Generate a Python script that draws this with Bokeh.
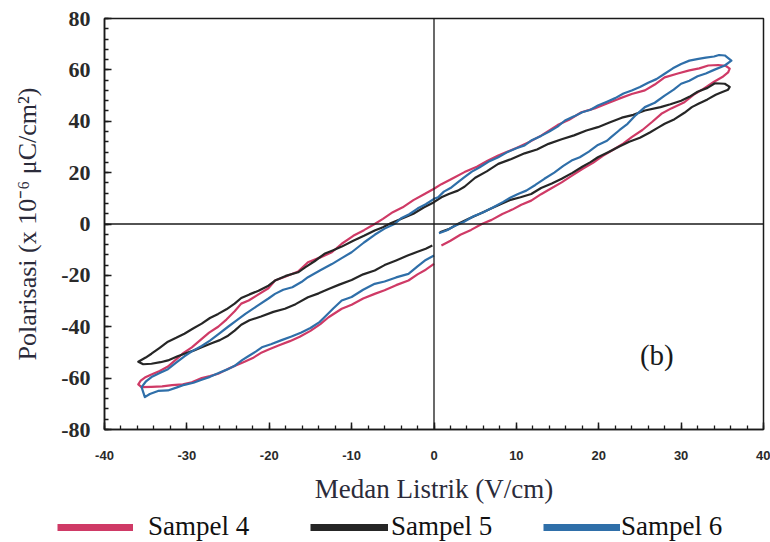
from bokeh.plotting import figure
from bokeh.layouts import column
from bokeh.models import Span, Label, Legend, LegendItem, SingleIntervalTicker, ColumnDataSource
from bokeh.embed import file_html
from bokeh.resources import INLINE

# ---------------- data ----------------
series_names = ["Sampel 4", "Sampel 5", "Sampel 6"]
series_colors = ["#cf3a66", "#262626", "#2f6fa9"]

# Sampel 4 : (Medan Listrik V/cm, Polarisasi x10^-6 uC/cm2)
sampel4 = [
    (0.9, -8.4), (2.0, -6.5), (3.2, -4.2), (4.5, -2.3), (5.8, 0.0), (7.0, 1.6), (8.3, 3.9),
    (9.5, 5.6), (10.6, 7.5), (11.8, 9.1), (13.0, 11.6), (14.2, 13.8), (15.5, 16.2),
    (16.8, 18.9), (18.0, 21.4), (19.3, 23.8), (20.5, 26.5), (21.8, 29.0), (23.0, 31.4),
    (24.0, 33.8), (25.3, 36.6), (26.5, 39.8), (27.6, 42.9), (28.8, 45.0), (30.4, 47.4),
    (31.5, 50.3), (32.7, 52.6), (34.0, 55.4), (35.0, 57.2), (35.7, 59.0), (35.9, 60.5),
    (35.4, 61.6), (34.5, 61.9), (33.3, 61.7), (32.2, 60.6), (31.0, 59.8), (29.6, 58.6),
    (28.0, 57.1), (26.8, 54.3), (25.6, 52.0), (24.0, 50.6), (22.4, 48.7), (21.0, 46.9),
    (19.5, 45.0), (17.9, 43.5), (16.4, 40.6), (15.0, 38.5), (13.0, 34.4), (11.5, 31.8),
    (10.0, 29.6), (8.8, 28.0), (7.8, 26.7), (6.5, 24.6), (5.2, 22.3), (3.7, 20.2),
    (2.3, 17.8), (0.9, 15.5), (0.0, 13.7), (-1.2, 11.6), (-2.5, 9.3), (-3.8, 6.5),
    (-5.0, 4.6), (-6.2, 2.0), (-7.2, 0.0), (-8.5, -2.4), (-9.8, -4.6), (-11.2, -7.7),
    (-12.4, -11.0), (-13.8, -13.0), (-15.3, -14.9), (-16.5, -18.5), (-18.0, -20.4),
    (-19.3, -22.0), (-20.1, -25.0), (-21.4, -27.6), (-22.5, -29.8), (-23.4, -31.0),
    (-24.2, -34.0), (-25.2, -37.2), (-26.2, -40.0), (-27.3, -42.3), (-28.3, -45.0),
    (-29.4, -48.0), (-30.4, -50.2), (-31.4, -53.0), (-32.3, -55.5), (-33.3, -57.2),
    (-34.3, -58.6), (-35.1, -59.8), (-35.6, -61.0), (-35.9, -62.4),
    (-35.5, -63.5), (-34.3, -63.4), (-33.0, -63.2), (-31.8, -62.7), (-30.5, -62.4),
    (-29.4, -61.6), (-28.2, -60.0), (-27.2, -59.2), (-26.2, -58.3), (-25.0, -56.4),
    (-24.0, -55.0), (-23.0, -53.6), (-22.0, -52.2), (-20.9, -50.0), (-20.0, -48.8),
    (-18.8, -47.2), (-17.5, -45.6), (-16.3, -43.9), (-15.0, -41.6), (-13.8, -39.0),
    (-12.8, -36.3), (-11.2, -33.0), (-10.0, -31.4), (-8.6, -29.0), (-7.2, -27.2),
    (-6.0, -25.8), (-4.6, -23.8), (-3.1, -22.0), (-2.0, -19.6), (-1.0, -17.8), (0.0, -15.5),
]

# Sampel 5
sampel5 = [
    (0.7, -3.2), (1.8, -2.0), (3.0, 0.2), (4.2, 2.0), (5.5, 3.9), (6.8, 5.8), (8.0, 7.6),
    (9.3, 9.4), (10.5, 10.4), (11.8, 11.7), (13.0, 14.0), (14.3, 15.8), (15.5, 17.6),
    (16.8, 19.9), (18.0, 22.3), (19.0, 24.1), (19.9, 26.0), (21.2, 28.0), (22.5, 30.2),
    (23.7, 32.0), (25.0, 33.6), (26.2, 35.6), (27.2, 37.5), (28.0, 39.0), (29.2, 40.8),
    (30.4, 43.3), (31.3, 45.5), (32.1, 46.8), (33.2, 48.5), (34.2, 50.3), (35.0, 51.4),
    (35.7, 52.3), (35.9, 53.4),
    (35.3, 54.6), (34.1, 54.8), (33.2, 53.0), (32.0, 51.5), (31.0, 49.5), (30.0, 48.0),
    (28.7, 46.6), (27.5, 45.5), (25.6, 44.2), (24.2, 42.5), (22.8, 41.4), (21.3, 39.5),
    (19.9, 37.7), (18.5, 36.4), (17.0, 34.5), (15.5, 33.0), (13.9, 31.2), (12.5, 29.0),
    (11.0, 27.5), (9.4, 25.3), (7.8, 23.4), (6.4, 20.5), (5.0, 18.0), (3.7, 14.5),
    (2.9, 13.0), (1.8, 11.7), (0.9, 10.4), (0.0, 8.5), (-1.2, 6.5), (-2.5, 4.0),
    (-3.8, 2.2), (-5.2, 0.4), (-6.2, -1.3), (-7.2, -2.5), (-8.5, -4.6), (-9.8, -6.5),
    (-11.2, -8.8), (-12.3, -10.3), (-13.3, -11.6), (-14.5, -14.5), (-15.6, -16.8),
    (-16.5, -18.8), (-18.0, -20.2), (-19.3, -22.0), (-20.1, -24.0), (-21.3, -26.0),
    (-22.4, -27.4), (-23.4, -28.8), (-24.2, -31.0), (-25.2, -33.2), (-26.2, -35.0),
    (-27.2, -36.6), (-28.2, -38.8), (-29.3, -40.8), (-30.3, -42.7), (-31.3, -44.3),
    (-32.3, -45.8), (-33.3, -48.2), (-34.3, -50.5), (-35.0, -52.0), (-35.9, -53.6),
    (-35.3, -54.6),
    (-34.3, -54.4), (-33.2, -53.8), (-32.3, -53.1), (-31.2, -51.6), (-30.3, -50.5),
    (-29.2, -49.3), (-28.2, -48.0), (-27.0, -46.4), (-26.0, -45.2), (-25.0, -43.5),
    (-24.2, -41.5), (-23.4, -39.2), (-22.4, -37.5), (-21.0, -36.0), (-19.5, -34.2),
    (-18.1, -33.0), (-16.8, -31.2), (-15.3, -28.5), (-14.0, -27.0), (-12.8, -25.3),
    (-11.5, -23.6), (-10.0, -21.8), (-8.6, -19.6), (-7.2, -18.1), (-6.0, -16.0),
    (-4.6, -14.2), (-3.2, -12.3), (-2.0, -10.8), (-1.0, -9.6), (-0.2, -8.4),
]

# Sampel 6
sampel6 = [
    (0.6, -3.6), (1.5, -2.5), (2.5, -0.8), (3.6, 0.8), (4.8, 3.0), (6.0, 4.6), (7.2, 6.5),
    (8.4, 8.6), (9.3, 10.3), (10.2, 11.7), (11.2, 13.0), (12.3, 15.2), (13.4, 17.6),
    (14.6, 20.0), (15.7, 22.6), (16.7, 24.7), (17.7, 26.0), (18.8, 28.2), (19.9, 30.8),
    (21.0, 32.4), (21.5, 33.8), (22.5, 36.5), (23.5, 39.0), (24.5, 42.4), (25.6, 45.5),
    (26.8, 47.2), (28.0, 50.0), (29.1, 52.3), (30.0, 54.6), (31.0, 55.8), (32.0, 57.5),
    (33.0, 58.6), (34.0, 60.0), (35.3, 61.7), (36.1, 63.6),
    (35.3, 65.6), (34.6, 65.8), (34.0, 65.2), (33.0, 64.8), (32.1, 64.3), (31.0, 63.6),
    (30.0, 62.3), (29.0, 60.6), (28.0, 58.5), (27.0, 56.4), (26.0, 55.0), (25.0, 53.3),
    (24.0, 52.0), (23.0, 50.8), (22.0, 49.0), (21.0, 47.6), (19.9, 46.1), (19.0, 44.5),
    (18.0, 43.5), (17.0, 41.9), (15.9, 40.3), (15.0, 37.9), (14.0, 36.0), (13.0, 34.3),
    (11.8, 32.5), (11.0, 30.6), (10.0, 29.5), (8.8, 27.8), (7.8, 26.0), (6.6, 24.2),
    (5.5, 22.0), (4.6, 20.4), (3.7, 18.2), (2.8, 16.0), (2.0, 14.0), (1.2, 12.6),
    (0.5, 10.4), (0.0, 9.8), (-1.0, 7.7), (-2.0, 6.0), (-3.0, 3.8), (-4.0, 2.2),
    (-4.8, 0.0), (-6.0, -1.8), (-7.2, -4.2), (-8.5, -7.2), (-10.0, -11.0), (-11.2, -13.3),
    (-12.4, -15.6), (-13.8, -18.0), (-15.3, -20.7), (-16.1, -22.6), (-17.2, -24.6),
    (-18.3, -25.6), (-19.3, -27.2), (-20.1, -29.0), (-21.5, -32.0), (-22.9, -35.0),
    (-24.0, -37.6), (-25.0, -40.0), (-26.2, -43.0), (-27.2, -45.4), (-28.2, -47.5),
    (-29.3, -49.4), (-30.3, -51.5), (-31.3, -54.0), (-32.3, -56.5), (-33.3, -58.0),
    (-34.3, -59.6), (-35.0, -61.4), (-35.5, -63.5), (-35.1, -67.4),
    (-34.5, -66.2), (-33.5, -65.0), (-32.3, -64.8), (-31.2, -63.6), (-30.3, -62.6),
    (-29.2, -61.8), (-28.2, -60.6), (-27.2, -59.5), (-26.0, -57.8), (-25.0, -56.5),
    (-24.2, -55.2), (-23.3, -53.0), (-22.5, -51.4), (-21.6, -49.6), (-20.9, -48.0),
    (-19.8, -46.8), (-18.5, -45.2), (-17.3, -43.8), (-16.1, -42.2), (-15.0, -40.5),
    (-13.9, -38.2), (-13.3, -36.3), (-12.2, -32.8), (-11.2, -29.8), (-10.0, -28.4),
    (-8.6, -25.6), (-7.2, -23.3), (-6.0, -22.4), (-4.6, -20.8), (-3.1, -19.4),
    (-2.0, -16.5), (-1.0, -14.0), (0.0, -12.3),
]

x_ticks = [-40, -30, -20, -10, 0, 10, 20, 30, 40]
y_ticks = [-80, -60, -40, -20, 0, 20, 40, 60, 80]
x_title = "Medan Listrik (V/cm)"
y_title = "Polarisasi (x 10\u207b\u2076 \u03bcC/cm\u00b2)"
panel_tag = "(b)"

# ---------------- main figure ----------------
p = figure(width=770, height=509, x_range=(-40, 40), y_range=(-80, 80),
           output_backend="svg", toolbar_location=None,
           min_border_left=104, min_border_right=7, min_border_top=18, min_border_bottom=80)
p.background_fill_color = "white"
p.border_fill_color = "white"
p.outline_line_color = "#1a1a1a"
p.outline_line_width = 1.5
p.grid.visible = False

p.xaxis.ticker = SingleIntervalTicker(interval=10, num_minor_ticks=5)
p.yaxis.ticker = SingleIntervalTicker(interval=20, num_minor_ticks=5)
p.xaxis.major_label_overrides = {t: str(t) for t in x_ticks}
p.yaxis.major_label_overrides = {t: str(t) for t in y_ticks}
for ax in (p.xaxis, p.yaxis):
    ax.axis_line_color = "#1a1a1a"
    ax.axis_line_width = 1.5
    ax.major_tick_in = 7
    ax.major_tick_out = 0
    ax.minor_tick_in = 4
    ax.minor_tick_out = 0
    ax.major_tick_line_color = "#1a1a1a"
    ax.minor_tick_line_color = "#1a1a1a"
    ax.major_tick_line_width = 1.5
    ax.minor_tick_line_width = 1.3

p.xaxis.major_label_text_font = "Liberation Sans"
p.xaxis.major_label_text_font_style = "bold"
p.xaxis.major_label_text_font_size = "13px"
p.xaxis.major_label_text_color = "#2a2a2a"
p.xaxis.major_label_standoff = 21
p.xaxis.axis_label = x_title
p.xaxis.axis_label_text_font = "Liberation Serif"
p.xaxis.axis_label_text_font_style = "normal"
p.xaxis.axis_label_text_font_size = "27px"
p.xaxis.axis_label_text_color = "#2b2b3a"
p.xaxis.axis_label_standoff = 11

p.yaxis.major_label_text_font = "Liberation Serif"
p.yaxis.major_label_text_font_style = "bold"
p.yaxis.major_label_text_font_size = "22px"
p.yaxis.major_label_text_color = "#2a2a2a"
p.yaxis.major_label_standoff = 14
p.yaxis.axis_label = y_title
p.yaxis.axis_label_text_font = "Liberation Serif"
p.yaxis.axis_label_text_font_style = "normal"
p.yaxis.axis_label_text_font_size = "26px"
p.yaxis.axis_label_text_color = "#2b2b3a"
p.yaxis.axis_label_standoff = 16

p.add_layout(Span(location=0, dimension="height", line_color="#1a1a1a", line_width=1.3))
p.add_layout(Span(location=0, dimension="width", line_color="#1a1a1a", line_width=1.3))

all_series = [sampel4, sampel5, sampel6]
for pts, col in zip(all_series, series_colors):
    src = ColumnDataSource(dict(x=[a for a, b in pts], y=[b for a, b in pts]))
    p.line("x", "y", source=src, line_color=col, line_width=2.2, line_join="round")

p.add_layout(Label(x=25.0, y=-51, text=panel_tag, text_font="Liberation Serif",
                   text_font_size="29px", text_color="#1a1a1a", text_baseline="middle"))

# ---------------- legend strip below the chart ----------------
k = figure(width=770, height=33, output_backend="svg", toolbar_location=None,
           x_axis_location=None, y_axis_location=None,
           min_border_left=0, min_border_right=0, min_border_top=0, min_border_bottom=0)
k.grid.visible = False
k.outline_line_color = None
k.background_fill_color = "white"
k.border_fill_color = "white"
frame_left = 104
if "frame_align" in k.properties():
    k.frame_align = False
    frame_left = 0

# key positions in pixels from the left of the page
leg_x = [57, 310, 543]
leg_glyph_w = [76, 78, 77]
leg_standoff = [15, 3, 1]
for name, col, lx, gw, so in zip(series_names, series_colors, leg_x, leg_glyph_w, leg_standoff):
    r = k.line(x=[float("nan")], y=[float("nan")], line_color=col, line_width=7)
    leg = Legend(items=[LegendItem(label=name, renderers=[r])], location=(lx - frame_left, 0),
                 orientation="horizontal", glyph_width=gw, glyph_height=30, label_height=30,
                 label_standoff=so, padding=0, margin=0, spacing=0,
                 border_line_alpha=0, background_fill_alpha=0,
                 label_text_font="Liberation Serif", label_text_font_size="27px",
                 label_text_color="#111111")
    k.add_layout(leg, "center")

layout = column(p, k, spacing=0)
open("out.html", "w").write(file_html(layout, INLINE))
